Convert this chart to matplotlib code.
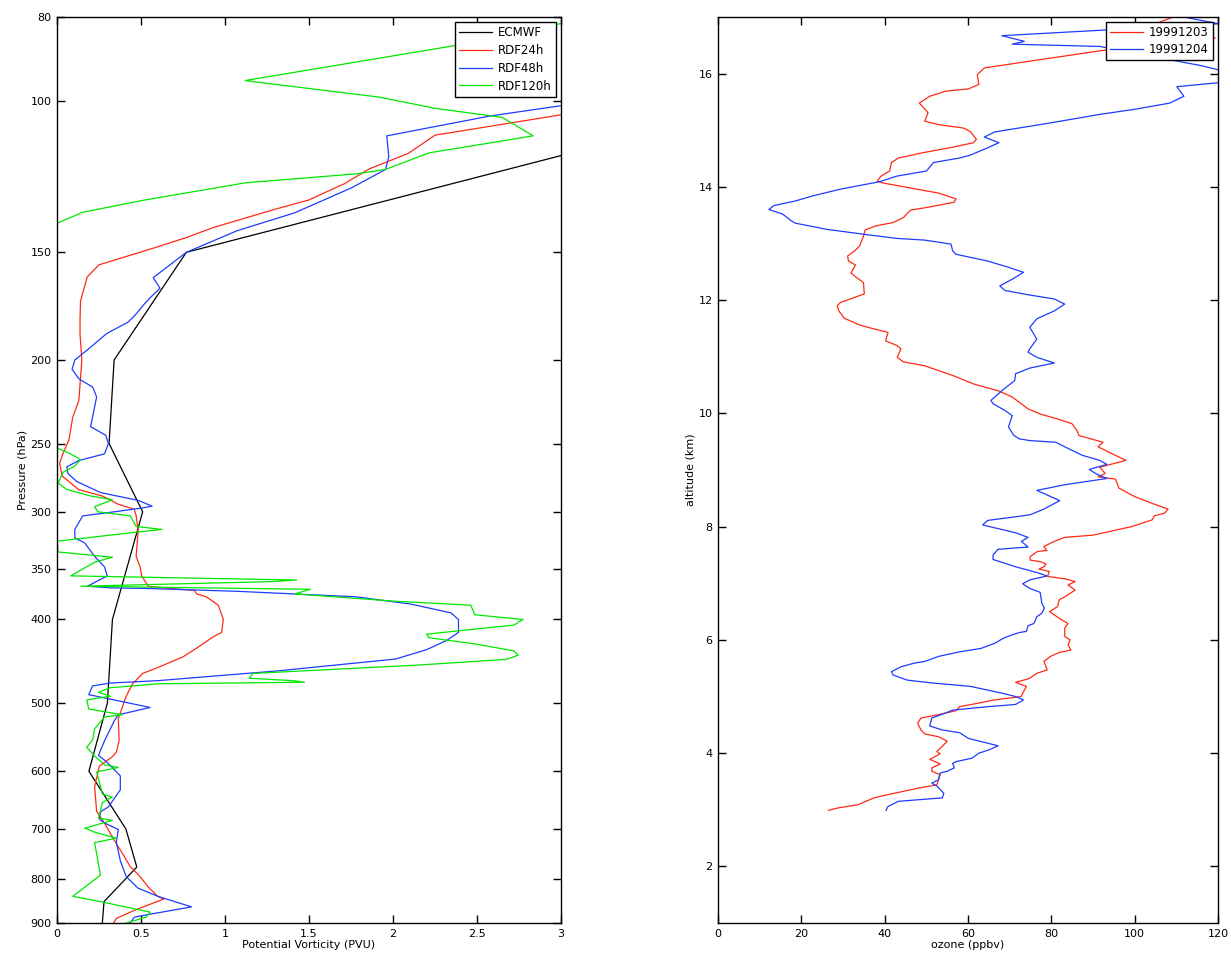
import numpy as np
import matplotlib
matplotlib.use("Agg")
import matplotlib.pyplot as plt
from matplotlib.ticker import NullLocator, FixedLocator, FixedFormatter

plt.rcParams['font.family'] = ['DejaVu Sans']
plt.rcParams['font.size'] = 8

# --- left panel: potential vorticity profiles (pressure hPa, PV) ---
ecmwf_p = [100, 150, 200, 250, 300, 400, 500, 600, 700, 775, 850, 925]
ecmwf_pv = [4.27, 0.77, 0.34, 0.31, 0.51, 0.33, 0.30, 0.19, 0.41, 0.475, 0.28, 0.265]

rdf24_p = [101.0, 103.9, 109.7, 115.2, 120.0, 124.9, 130.4, 133.5, 140.4, 144.2, 147.8,
           155.1, 160.2, 170.9, 180, 186.4, 200, 222.8, 233, 247.6, 257, 263.5, 272.7,
           282.8, 287.6, 294, 298, 303, 316, 338, 347.7, 356, 366, 369, 370, 373.5,
           376.6, 385, 400, 414, 419, 432, 442, 454, 462, 475, 492, 521.5, 553, 570,
           577, 592, 625, 668, 685.5, 722, 747, 774, 795, 817, 838.5, 844, 870, 889,
           900, 910]
rdf24_pv = [3.5, 3.0, 2.25, 2.09, 1.86, 1.71, 1.50, 1.31, 0.93, 0.77, 0.60,
            0.25, 0.18, 0.14, 0.137, 0.137, 0.148, 0.13, 0.094, 0.071, 0.035, 0.016, 0.031,
            0.13, 0.27, 0.365, 0.46, 0.471, 0.483, 0.471, 0.495, 0.504, 0.543, 0.732, 0.82, 0.83,
            0.89, 0.96, 0.99, 0.98, 0.93, 0.83, 0.75, 0.61, 0.51, 0.45, 0.41, 0.365, 0.37, 0.353,
            0.33, 0.252, 0.224, 0.236, 0.276, 0.342, 0.389, 0.436, 0.495, 0.542, 0.601, 0.636, 0.46, 0.353,
            0.337, 0.33]

rdf48_p = [100.0, 101.4, 104.2, 109.9, 116.2, 120.2, 126.2, 135, 141.6, 150, 160.5,
           165.1, 169.4, 172.4, 177, 180.7, 186.4, 193.3, 200, 205, 210.3, 215, 220.7,
           239, 244.5, 250, 257, 261.6, 266, 270.7, 276.7, 285, 291, 295.5, 297, 300,
           303.3, 314.5, 321.6, 326, 338, 347.6, 356, 359.4, 366, 367.6, 368.3, 371,
           376.5, 384, 393, 400, 414, 423, 433.6, 444.6, 459, 471, 474, 477.7, 489,
           491.6, 506, 516, 524, 553, 575, 585, 607.5, 630.5, 660, 668.6, 682, 689,
           701, 725, 762, 795, 820, 838, 862, 879, 886, 900, 910]
rdf48_pv = [3.5, 3.0, 2.58, 1.963, 1.975, 1.956, 1.756, 1.414, 1.072, 0.77, 0.573,
            0.613, 0.554, 0.518, 0.47, 0.424, 0.295, 0.2, 0.106, 0.09, 0.13, 0.212, 0.236,
            0.2, 0.29, 0.306, 0.283, 0.13, 0.059, 0.064, 0.118, 0.259, 0.483, 0.566, 0.507, 0.342,
            0.153, 0.106, 0.106, 0.165, 0.224, 0.283, 0.299, 0.259, 0.181, 0.318, 0.554, 1.072,
            1.78, 2.11, 2.345, 2.39, 2.39, 2.32, 2.2, 2.015, 1.308, 0.601, 0.318, 0.212, 0.189,
            0.247, 0.554, 0.365, 0.342, 0.283, 0.247, 0.295, 0.377, 0.377, 0.306, 0.259, 0.252, 0.283,
            0.365, 0.353, 0.377, 0.412, 0.483, 0.601, 0.801, 0.554, 0.46, 0.436, 0.43]

rdf120_p = [79, 81.4, 86.5, 94.8, 95.2, 99.1, 102.1, 104.6, 109.9, 115, 120.2, 121.6,
            124.6, 130.6, 134.8, 138.8, 190, 253, 257, 261, 265.5, 270, 278, 282.7,
            287.6, 290.5, 296, 300, 303.3, 312, 314.5, 317, 324.5, 334, 338.7, 343.3,
            356, 360, 361.5, 366, 369, 373.6, 381, 385, 395, 400, 406, 416, 420, 427,
            435, 440, 445, 452, 462, 468, 471, 473, 475, 480, 486, 491, 496, 508, 516,
            519, 535.6, 551.8, 563, 579, 589.6, 594, 601, 638, 643, 652, 680, 684,
            698.6, 706, 717.4, 726, 792, 838, 851, 874, 886, 900, 910]
rdf120_pv = [3.2, 3.0, 2.345, 1.12, 1.19, 1.92, 2.25, 2.65, 2.835, 2.215, 1.956, 1.79,
             1.12, 0.507, 0.153, 0.0, -0.5, 0.0, 0.082, 0.141, 0.106, 0.035, 0.007, 0.059,
             0.2, 0.33, 0.224, 0.243, 0.436, 0.471, 0.625, 0.46, 0.0, 0.007, 0.33, 0.224,
             0.082, 1.426, 1.284, 0.141, 1.509, 1.414, 2.015, 2.463, 2.487, 2.774, 2.72, 2.2, 2.215, 2.487,
             2.72, 2.745, 2.675, 2.133, 1.167, 1.143, 1.402, 1.473, 0.601, 0.318, 0.247, 0.318, 0.177, 0.189, 0.389,
             0.283, 0.224, 0.212, 0.177, 0.236, 0.283, 0.365, 0.236, 0.271, 0.33, 0.271, 0.247, 0.33,
             0.165, 0.224, 0.353, 0.224, 0.259, 0.094, 0.271, 0.554, 0.53, 0.412, 0.40]

p_ticks = [80, 100, 150, 200, 250, 300, 350, 400, 500, 600, 700, 800, 900]
pv_ticks = [0, 0.5, 1, 1.5, 2, 2.5, 3]
pv_labels = ['0', '0.5', '1', '1.5', '2', '2.5', '3']

# --- right panel: ozone soundings (ppbv, km) ---
o3_1203 = [109.2, 105.0, 119.3, 92.4, 74.8, 63.9, 62.2, 62.6, 60.1, 54.6, 50.8, 48.3,
           50.4, 49.6, 52.9, 58.8, 60.5, 62.0, 61.3, 56.3, 49.6, 43.3, 41.6, 41.2, 39.1,
           38.2, 39.5, 52.9, 57.1, 56.7, 49.6, 46.2, 44.5, 42.0, 37.8, 35.3, 34.9, 34.0,
           32.8, 31.1, 31.3, 33.0, 31.9, 33.2, 34.9, 35.1, 32.8, 29.4, 28.6, 29.0, 30.3,
           34.0, 37.0, 40.8, 40.2, 42.9, 43.9, 43.0, 44.5, 49.6, 56.3, 61.3, 67.2, 70.6,
           74.4, 77.3, 81.5, 84.9, 86.1, 86.6, 92.4, 91.2, 94.5, 97.9, 91.6, 92.9, 91.2,
           95.4, 96.2, 100.0, 104.2, 108.0, 107.2, 104.7, 104.2, 99.2, 90.0, 83.2, 80.7,
           78.2, 78.9, 76.6, 74.9, 74.9, 77.4, 78.7, 78.2, 77.0, 79.5, 79.1, 83.2, 85.7,
           84.0, 85.7, 83.2, 81.9, 81.5, 79.6, 81.9, 84.0, 83.2, 83.2, 84.5, 84.0, 84.7,
           81.9, 79.8, 78.2, 79.0, 76.5, 74.8, 71.4, 74.0, 72.7, 66.4, 58.0, 57.1, 52.9,
           48.7, 47.9, 48.7, 49.6, 52.9, 55.0, 53.8, 52.5, 53.3, 52.1, 50.8, 53.3, 51.3,
           51.3, 53.3, 52.5, 47.9, 40.3, 37.4, 33.6, 28.6, 26.5]
alt_1203 = [17.0, 16.88, 16.63, 16.41, 16.22, 16.10, 15.98, 15.81, 15.73, 15.69, 15.60, 15.48,
            15.31, 15.16, 15.10, 15.04, 14.98, 14.84, 14.78, 14.70, 14.61, 14.51, 14.43, 14.28, 14.19,
            14.10, 14.07, 13.89, 13.79, 13.73, 13.63, 13.59, 13.46, 13.37, 13.31, 13.24, 13.13, 12.96,
            12.87, 12.78, 12.69, 12.62, 12.48, 12.40, 12.31, 12.11, 12.05, 11.96, 11.90, 11.81, 11.68,
            11.56, 11.50, 11.43, 11.28, 11.20, 11.14, 10.99, 10.91, 10.84, 10.67, 10.52, 10.40, 10.29,
            10.08, 9.99, 9.90, 9.82, 9.70, 9.61, 9.49, 9.41, 9.29, 9.17, 9.05, 8.94, 8.88,
            8.84, 8.68, 8.53, 8.41, 8.31, 8.24, 8.19, 8.12, 8.00, 7.85, 7.81, 7.74,
            7.65, 7.58, 7.56, 7.47, 7.41, 7.38, 7.34, 7.29, 7.25, 7.21, 7.12, 7.08, 7.03,
            6.97, 6.88, 6.76, 6.71, 6.59, 6.50, 6.38, 6.29, 6.21, 6.06, 6.00, 5.91, 5.82,
            5.78, 5.71, 5.62, 5.47, 5.41, 5.32, 5.25, 5.18, 5.00, 4.94, 4.82, 4.75, 4.68,
            4.62, 4.53, 4.41, 4.34, 4.29, 4.21, 4.12, 4.03, 3.99, 3.94, 3.89, 3.81, 3.74,
            3.68, 3.62, 3.44, 3.38, 3.26, 3.21, 3.09, 3.03, 2.99]

o3_1204 = [111.8, 120.2, 68.1, 73.5, 70.6, 91.6, 116.0, 125.0, 120.2, 110.1, 111.8, 108.4,
           100.0, 91.6, 79.8, 66.4, 63.9, 67.4, 64.7, 60.5, 58.0, 51.7, 50.0, 42.9, 38.7,
           29.4, 22.7, 18.5, 13.4, 12.2, 15.5, 17.6, 18.5, 26.1, 35.3, 42.9, 49.6, 55.9,
           56.3, 57.1, 64.7, 69.7, 73.3, 70.6, 67.6, 68.9, 74.8, 80.7, 83.2, 80.7, 76.5,
           74.8, 76.5, 74.8, 74.4, 76.5, 79.0, 80.7, 74.8, 71.4, 71.2, 68.1, 65.5, 66.0,
           68.9, 70.6, 69.7, 71.0, 72.3, 74.8, 81.1, 83.2, 87.4, 91.6, 93.3, 89.1, 90.8,
           93.3, 83.2, 76.5, 82.0, 78.2, 74.9, 72.0, 64.7, 63.5, 71.5, 74.4, 72.8, 74.4,
           67.2, 66.0, 66.0, 71.5, 76.5, 79.0, 74.8, 73.1, 74.8, 77.3, 77.7, 78.3, 77.7,
           76.5, 75.8, 74.4, 74.0, 72.3, 70.6, 68.5, 66.4, 63.1, 58.0, 53.0, 49.6, 47.1,
           44.1, 41.6, 42.0, 45.4, 51.3, 60.5, 68.1, 71.4, 73.3, 71.4, 64.7, 56.3, 54.6,
           51.3, 50.8, 53.8, 58.0, 60.1, 63.9, 67.2, 65.1, 62.6, 60.9, 57.1, 56.3, 56.7,
           55.0, 53.3, 52.9, 51.3, 52.5, 54.2, 53.8, 43.3, 40.8, 40.3]
alt_1204 = [17.0, 16.88, 16.67, 16.57, 16.52, 16.48, 16.14, 15.98, 15.84, 15.77, 15.60, 15.48,
            15.37, 15.28, 15.13, 14.97, 14.88, 14.78, 14.69, 14.56, 14.51, 14.43, 14.28, 14.19, 14.09,
            13.96, 13.84, 13.75, 13.67, 13.60, 13.52, 13.40, 13.36, 13.25, 13.16, 13.09, 13.06, 12.99,
            12.87, 12.81, 12.69, 12.58, 12.49, 12.37, 12.25, 12.17, 12.09, 12.02, 11.93, 11.81, 11.67,
            11.52, 11.31, 11.14, 11.08, 10.99, 10.93, 10.89, 10.80, 10.70, 10.58, 10.40, 10.23, 10.17,
            10.05, 9.96, 9.76, 9.61, 9.55, 9.52, 9.49, 9.41, 9.26, 9.17, 9.10, 9.01, 8.93,
            8.85, 8.74, 8.64, 8.46, 8.31, 8.21, 8.18, 8.11, 8.03, 7.89, 7.81, 7.74, 7.64,
            7.60, 7.50, 7.42, 7.29, 7.19, 7.13, 7.06, 6.99, 6.91, 6.84, 6.65, 6.56, 6.47,
            6.41, 6.29, 6.25, 6.15, 6.13, 6.09, 6.03, 5.94, 5.85, 5.79, 5.71, 5.62, 5.59,
            5.53, 5.44, 5.38, 5.29, 5.24, 5.18, 5.06, 5.00, 4.94, 4.86, 4.82, 4.76, 4.71,
            4.62, 4.48, 4.41, 4.36, 4.26, 4.19, 4.13, 4.06, 4.00, 3.91, 3.85, 3.82, 3.74,
            3.68, 3.65, 3.53, 3.47, 3.42, 3.29, 3.21, 3.15, 3.06, 2.99]

red = '#ff2a14'
blue = '#1e3cff'
green = '#00e800'
lw = 0.9

fig = plt.figure(figsize=(12.31, 9.60), dpi=100)
ax1 = fig.add_axes([0.0463, 0.0385, 0.4094, 0.9438])
ax2 = fig.add_axes([0.5833, 0.0385, 0.4062, 0.9438])

ax1.plot(ecmwf_pv, ecmwf_p, color='black', lw=lw, label='ECMWF')
ax1.plot(rdf24_pv, rdf24_p, color=red, lw=lw, label='RDF24h')
ax1.plot(rdf48_pv, rdf48_p, color=blue, lw=lw, label='RDF48h')
ax1.plot(rdf120_pv, rdf120_p, color=green, lw=lw, label='RDF120h')
ax1.set_yscale('log')
ax1.set_ylim(900, 80)
ax1.set_xlim(0, 3)
ax1.yaxis.set_major_locator(FixedLocator(p_ticks))
ax1.yaxis.set_major_formatter(FixedFormatter([str(v) for v in p_ticks]))
ax1.yaxis.set_minor_locator(NullLocator())
ax1.set_xticks(pv_ticks)
ax1.set_xticklabels(pv_labels)
ax1.set_xlabel('Potential Vorticity (PVU)', labelpad=1)
ax1.set_ylabel('Pressure (hPa)', labelpad=2)
ax1.legend(loc='upper right', fancybox=False, edgecolor='black', framealpha=1,
           handlelength=2.8, handletextpad=0.5, borderaxespad=0.45,
           labelspacing=0.4, fontsize=8.5, borderpad=0.35)

ax2.plot(o3_1203, alt_1203, color=red, lw=lw, label='19991203')
ax2.plot(o3_1204, alt_1204, color=blue, lw=lw, label='19991204')
ax2.set_xlim(0, 120)
ax2.set_ylim(1, 17)
ax2.set_xticks([0, 20, 40, 60, 80, 100, 120])
ax2.set_yticks([2, 4, 6, 8, 10, 12, 14, 16])
ax2.set_xlabel('ozone (ppbv)', labelpad=1)
ax2.set_ylabel('altitude (km)', labelpad=2)
ax2.legend(loc='upper right', fancybox=False, edgecolor='black', framealpha=1,
           handlelength=2.8, handletextpad=0.5, borderaxespad=0.45,
           labelspacing=0.3, fontsize=8.5, borderpad=0.35)

for ax in (ax1, ax2):
    ax.tick_params(direction='in', length=6, width=1, top=True, right=True,
                   labelsize=8, pad=4)
    for s in ax.spines.values():
        s.set_linewidth(1)

fig.savefig('out.png', dpi=100)
